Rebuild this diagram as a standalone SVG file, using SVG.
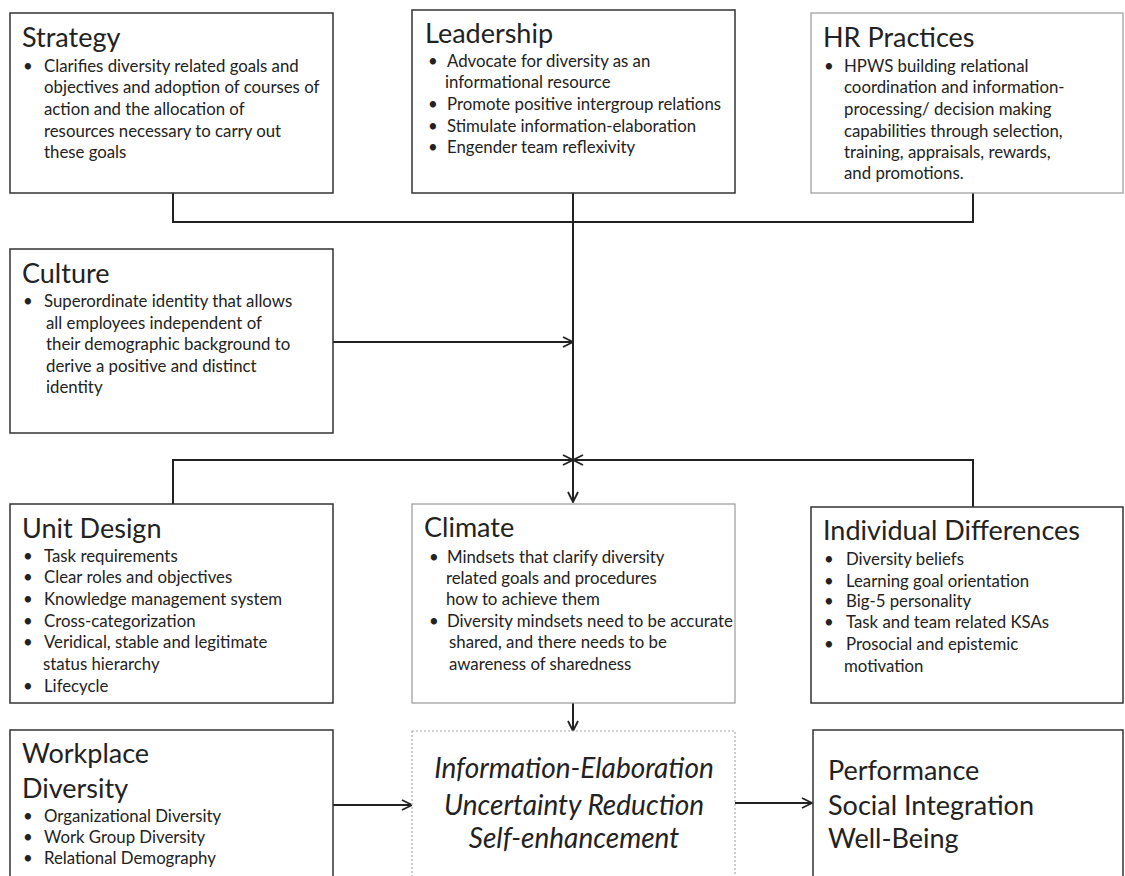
<svg xmlns="http://www.w3.org/2000/svg" width="1125" height="876" viewBox="0 0 1125 876">
<style>
.box{fill:#fff;stroke:#333;stroke-width:1.5}
.lbox{fill:#fff;stroke:#999;stroke-width:1.2}
.dbox{fill:#fff;stroke:#aaa;stroke-width:1.2;stroke-dasharray:2 2}
.t{font-family:Lato,"Liberation Sans",sans-serif;font-size:27px;fill:#222}
.b{font-family:Lato,"Liberation Sans",sans-serif;font-size:16.8px;fill:#222}
.i{font-family:Lato,"Liberation Sans",sans-serif;font-size:28px;font-style:italic;fill:#222;text-anchor:middle}
.c{fill:none;stroke:#222;stroke-width:2}
</style>
<defs>
<marker id="ah" viewBox="0 0 12 12" refX="11" refY="6" markerWidth="12" markerHeight="12" markerUnits="userSpaceOnUse" orient="auto">
<path d="M1,1 L11,6 L1,11" fill="none" stroke="#222" stroke-width="1.8"/>
</marker>
</defs>
<g id="connectors">
<path class="c" d="M173,193 V222 H973 V193"/>
<path class="c" d="M573,193 V502" marker-end="url(#ah)"/>
<path class="c" d="M333,342 H573" marker-end="url(#ah)"/>
<path class="c" d="M173,504 V460 H573" marker-end="url(#ah)"/>
<path class="c" d="M973,507 V460 H573" marker-end="url(#ah)"/>
<path class="c" d="M573,703 V731" marker-end="url(#ah)"/>
<path class="c" d="M333,805 H412" marker-end="url(#ah)"/>
<path class="c" d="M735,803 H812" marker-end="url(#ah)"/>
</g>
<g id="strategy">
<rect class="box" x="10" y="13" width="323" height="180"/>
<text class="t" x="22" y="47">Strategy</text>
<text class="b"><tspan x="23" y="72">•</tspan><tspan x="44" y="72">Clarifies  diversity related goals and</tspan><tspan x="44" y="93">objectives and adoption of courses of</tspan><tspan x="44" y="115">action and the  allocation  of</tspan><tspan x="44" y="137">resources necessary to carry out</tspan><tspan x="44" y="158">these goals</tspan></text>
</g>
<g id="leadership">
<rect class="box" x="412" y="10" width="323" height="183"/>
<text class="t" x="425" y="43">Leadership</text>
<text class="b"><tspan x="428" y="67">•</tspan><tspan x="447" y="67">Advocate for diversity as an</tspan><tspan x="445" y="88">informational resource</tspan><tspan x="428" y="110">•</tspan><tspan x="447" y="110">Promote positive intergroup relations</tspan><tspan x="428" y="132">•</tspan><tspan x="447" y="132">Stimulate information-elaboration</tspan><tspan x="428" y="153">•</tspan><tspan x="447" y="153">Engender team reflexivity</tspan></text>
</g>
<g id="hr">
<rect class="lbox" x="811" y="13" width="312" height="180"/>
<text class="t" x="823" y="47">HR Practices</text>
<text class="b"><tspan x="824" y="72">•</tspan><tspan x="844" y="72">HPWS building relational</tspan><tspan x="844" y="93">coordination  and information-</tspan><tspan x="844" y="115">processing/ decision making</tspan><tspan x="844" y="137">capabilities through  selection,</tspan><tspan x="844" y="158">training,  appraisals, rewards,</tspan><tspan x="844" y="179">and promotions.</tspan></text>
</g>
<g id="culture">
<rect class="box" x="10" y="249" width="323" height="184"/>
<text class="t" x="22" y="283">Culture</text>
<text class="b"><tspan x="23" y="307">•</tspan><tspan x="44" y="307">Superordinate identity that allows</tspan><tspan x="46" y="329">all employees independent of</tspan><tspan x="46" y="350">their demographic background to</tspan><tspan x="46" y="372">derive a positive and distinct</tspan><tspan x="46" y="393">identity</tspan></text>
</g>
<g id="unit-design">
<rect class="box" x="10" y="504" width="323" height="199"/>
<text class="t" x="22" y="538">Unit Design</text>
<text class="b"><tspan x="23" y="562">•</tspan><tspan x="44" y="562">Task requirements</tspan><tspan x="23" y="583">•</tspan><tspan x="44" y="583">Clear roles and objectives</tspan><tspan x="23" y="605">•</tspan><tspan x="44" y="605">Knowledge management system</tspan><tspan x="23" y="627">•</tspan><tspan x="44" y="627">Cross-categorization</tspan><tspan x="23" y="648">•</tspan><tspan x="44" y="648">Veridical, stable and legitimate</tspan><tspan x="43" y="670">status hierarchy</tspan><tspan x="23" y="692">•</tspan><tspan x="44" y="692">Lifecycle</tspan></text>
</g>
<g id="climate">
<rect class="lbox" x="412" y="504" width="323" height="199"/>
<text class="t" x="424" y="537">Climate</text>
<text class="b"><tspan x="429" y="563">•</tspan><tspan x="447" y="563">Mindsets that clarify diversity</tspan><tspan x="446" y="584">related goals and  procedures</tspan><tspan x="446" y="605">how to achieve them</tspan><tspan x="429" y="627">•</tspan><tspan x="447" y="627">Diversity mindsets need to be accurate</tspan><tspan x="449" y="648">shared, and there needs to be</tspan><tspan x="449" y="670">awareness of sharedness</tspan></text>
</g>
<g id="individual-differences">
<rect class="box" x="811" y="507" width="312" height="196"/>
<text class="t" x="823" y="540">Individual Differences</text>
<text class="b"><tspan x="824" y="565">•</tspan><tspan x="846" y="565">Diversity beliefs</tspan><tspan x="824" y="587">•</tspan><tspan x="846" y="587">Learning goal orientation</tspan><tspan x="824" y="607">•</tspan><tspan x="846" y="607">Big-5 personality</tspan><tspan x="824" y="628">•</tspan><tspan x="846" y="628">Task and team related KSAs</tspan><tspan x="824" y="650">•</tspan><tspan x="846" y="650">Prosocial and epistemic</tspan><tspan x="844" y="672">motivation</tspan></text>
</g>
<g id="workplace-diversity">
<rect class="box" x="10" y="730" width="323" height="170"/>
<text class="t"><tspan x="22" y="763">Workplace</tspan><tspan x="22" y="798">Diversity</tspan></text>
<text class="b"><tspan x="23" y="822">•</tspan><tspan x="44" y="822">Organizational Diversity</tspan><tspan x="23" y="843">•</tspan><tspan x="44" y="843">Work Group Diversity</tspan><tspan x="23" y="864">•</tspan><tspan x="44" y="864">Relational Demography</tspan></text>
</g>
<g id="mechanisms">
<rect class="dbox" x="412" y="731" width="323" height="170"/>
<text class="i"><tspan x="574" y="778">Information-Elaboration</tspan><tspan x="574" y="815">Uncertainty Reduction</tspan><tspan x="574" y="848">Self-enhancement</tspan></text>
</g>
<g id="outcomes">
<rect class="box" x="813" y="730" width="310" height="170"/>
<text class="t"><tspan x="828" y="780">Performance</tspan><tspan x="828" y="815">Social Integration</tspan><tspan x="828" y="848">Well-Being</tspan></text>
</g>
</svg>
